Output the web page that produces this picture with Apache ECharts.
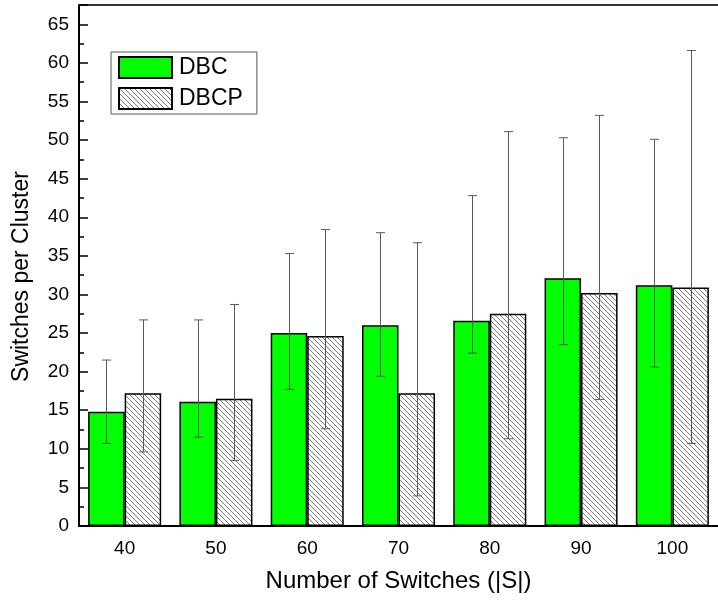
<!DOCTYPE html>
<html>
<head>
<meta charset="utf-8">
<script src="https://cdn.jsdelivr.net/npm/echarts@6/dist/echarts.min.js"></script>
<style>
  html, body { margin: 0; padding: 0; background: #fff; }
  #chart { width: 718px; height: 601px; }
</style>
</head>
<body>
<div id="chart"></div>
<script>
// Cluster sizes by number of switches
const categories = ['40', '50', '60', '70', '80', '90', '100'];
const dbc = [14.8, 16.1, 25.0, 26.0, 26.6, 32.1, 31.2];
const dbcp = [17.2, 16.5, 24.6, 17.2, 27.5, 30.2, 30.9];
// Error bar extents (low / high)
const dbcLow = [10.7, 11.5, 17.7, 19.4, 22.4, 23.5, 20.6];
const dbcHigh = [21.5, 26.7, 35.3, 38.0, 42.8, 50.3, 50.1];
const dbcpLow = [9.6, 8.5, 12.6, 3.9, 11.3, 16.4, 10.7];
const dbcpHigh = [26.7, 28.7, 38.4, 36.7, 51.1, 53.2, 61.6];
const yTicks = [0, 5, 10, 15, 20, 25, 30, 35, 40, 45, 50, 55, 60, 65];

const FONT = '"Liberation Sans", Arial, sans-serif';
const BAR_GAP_RATIO = 0.2;

// Diagonal hatch fill used for DBCP
function makeHatch() {
  const s = 5;
  const c = document.createElement('canvas');
  c.width = s; c.height = s;
  const g = c.getContext('2d');
  g.fillStyle = '#ffffff';
  g.fillRect(0, 0, s, s);
  g.strokeStyle = '#7a7a7a';
  g.lineWidth = 1;
  g.beginPath();
  g.moveTo(-1, -1); g.lineTo(s + 1, s + 1);
  g.moveTo(-1, s - 1); g.lineTo(1, s + 1);
  g.moveTo(s - 1, -1); g.lineTo(s + 1, 1);
  g.stroke();
  return c;
}
const hatch = { image: makeHatch(), repeat: 'repeat' };

function errorSeries(name, low, high, side) {
  return {
    type: 'custom',
    name: name + '-err',
    z: 5,
    silent: true,
    data: low.map((l, i) => [i, l, high[i]]),
    encode: { x: 0, y: [1, 2] },
    renderItem: function (params, api) {
      const i = api.value(0);
      const band = api.size([1, 0])[0];
      const barW = band * (1 - BAR_GAP_RATIO) / 2;
      const top = api.coord([i, api.value(2)]);
      const bot = api.coord([i, api.value(1)]);
      const x = Math.round(top[0] + side * barW / 2) + 0.5;
      const cap = 4.5;
      const style = { stroke: '#5a5a5a', lineWidth: 1 };
      return {
        type: 'group',
        children: [
          { type: 'line', shape: { x1: x, y1: top[1], x2: x, y2: bot[1] }, style: style },
          { type: 'line', shape: { x1: x - cap, y1: top[1], x2: x + cap, y2: top[1] }, style: style },
          { type: 'line', shape: { x1: x - cap, y1: bot[1], x2: x + cap, y2: bot[1] }, style: style }
        ]
      };
    }
  };
}

const chart = echarts.init(document.getElementById('chart'), null, { renderer: 'canvas' });
chart.setOption({
  animation: false,
  backgroundColor: '#ffffff',
  textStyle: { fontFamily: FONT },
  grid: { left: 79, top: 5, width: 641, bottom: 75 },
  legend: {
    orient: 'vertical',
    left: 111, top: 52,
    data: ['DBC', 'DBCP'],
    icon: 'rect',
    itemWidth: 53, itemHeight: 21, itemGap: 8,
    padding: [4, 14, 4, 7],
    borderColor: '#555', borderWidth: 1,
    textStyle: { fontSize: 23, lineHeight: 21, color: '#000', fontFamily: FONT, padding: [0, 0, 0, 2] },
    selectedMode: false
  },
  xAxis: [
    {
      type: 'category',
      data: categories,
      name: 'Number of Switches (|S|)',
      nameLocation: 'middle',
      nameGap: 43,
      nameTextStyle: { fontSize: 24, color: '#000', fontFamily: FONT },
      axisLine: { lineStyle: { color: '#000', width: 2 } },
      axisTick: { show: false },
      axisLabel: { fontSize: 19, color: '#000', margin: 13, fontFamily: FONT },
      splitLine: { show: false }
    },
    {
      // top frame line
      type: 'category',
      data: categories,
      position: 'top',
      axisLine: { show: true, onZero: false, lineStyle: { color: '#333', width: 2 } },
      axisTick: { show: false },
      axisLabel: { show: false },
      splitLine: { show: false }
    }
  ],
  yAxis: [
    {
      type: 'value',
      min: 0, max: 67.5, interval: 5,
      name: 'Switches per Cluster',
      nameLocation: 'middle',
      nameGap: 46,
      nameTextStyle: { fontSize: 23, color: '#000', fontFamily: FONT, padding: [0, 22, 0, 0] },
      axisLine: { show: true, lineStyle: { color: '#000', width: 2 } },
      axisTick: { show: true, inside: true, length: 9, lineStyle: { color: '#000', width: 1.5 } },
      axisLabel: {
        fontSize: 19, color: '#000', margin: 10, fontFamily: FONT,
        formatter: v => (yTicks.indexOf(v) >= 0 ? String(v) : '')
      },
      splitLine: { show: false }
    },
    {
      // minor ticks every 2.5
      type: 'value',
      position: 'left',
      min: 0, max: 67.5, interval: 2.5,
      axisLine: { show: false },
      axisTick: { show: true, inside: true, length: 5, lineStyle: { color: '#000', width: 1.5 } },
      axisLabel: { show: false },
      splitLine: { show: false }
    }
  ],
  series: [
    {
      name: 'DBC',
      type: 'bar',
      data: dbc,
      barGap: '0%',
      barCategoryGap: (BAR_GAP_RATIO * 100) + '%',
      itemStyle: { color: '#00ff00', borderColor: '#000', borderWidth: 1.5 }
    },
    {
      name: 'DBCP',
      type: 'bar',
      data: dbcp,
      barGap: '0%',
      barCategoryGap: (BAR_GAP_RATIO * 100) + '%',
      itemStyle: { color: hatch, borderColor: '#000', borderWidth: 1.5 }
    },
    errorSeries('DBC', dbcLow, dbcHigh, -1),
    errorSeries('DBCP', dbcpLow, dbcpHigh, 1)
  ]
});
</script>
</body>
</html>
